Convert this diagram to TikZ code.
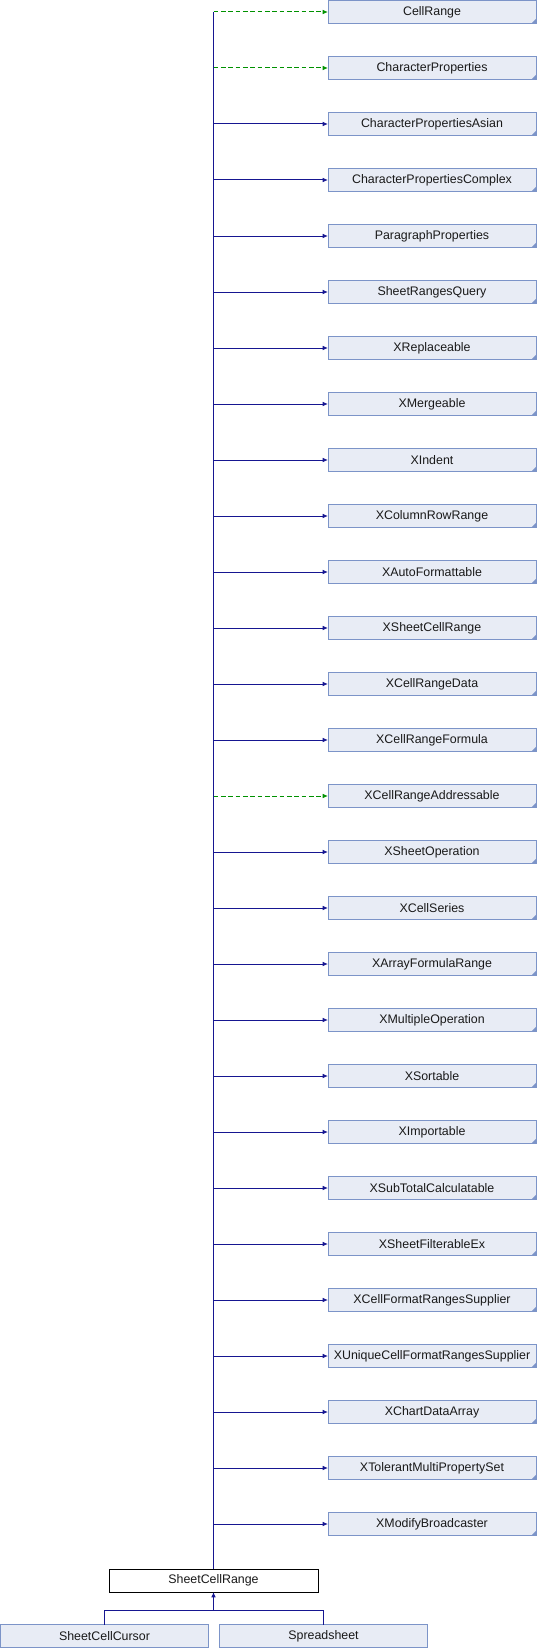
\documentclass[tikz,border=0pt]{standalone}
\usepackage{fontspec}
\setmainfont{Liberation Sans}
\usepackage{tikz}
\usetikzlibrary{arrows.meta}
\definecolor{edgeColor}{RGB}{22,22,145}
\definecolor{dashColor}{RGB}{0,145,0}
\definecolor{boxFill}{RGB}{232,236,245}
\definecolor{boxBorder}{RGB}{124,148,200}
\definecolor{textColor}{RGB}{25,25,25}

\begin{document}
\begin{tikzpicture}[x=0.75pt,y=-0.75pt]

          \tikzstyle{ifaceNode} = [draw=boxBorder, fill=boxFill, line width=0.75pt,
            minimum width=156pt, minimum height=17.25pt, inner sep=0pt, outer sep=0pt,
            text=textColor, font=\fontsize{9.3}{10}\selectfont,
            path picture={\fill[boxBorder] (path picture bounding box.south east)
              -- ++(-3.5pt,0pt) -- ++(3.5pt,3.5pt) -- cycle;}];
          \tikzstyle{plainNode} = [ifaceNode, path picture={}];
          \tikzstyle{focusNode} = [draw=black, fill=white, line width=0.75pt,
            minimum width=156.75pt, minimum height=17.25pt, inner sep=0pt, outer sep=0pt,
            text=textColor, font=\fontsize{9.3}{10}\selectfont];

          \tikzstyle{normalEdge} = [edgeColor, line width=0.75pt, -{Latex[length=4pt,width=3.5pt]}];
          \tikzstyle{usesEdge} = [dashColor, line width=0.75pt, dash pattern=on 3.5pt off 2pt, -{Latex[length=4pt,width=3.5pt]}];
          \tikzstyle{lineEdge} = [edgeColor, line width=0.75pt];

          \useasboundingbox (0,0) rectangle (537,1648);

          \node[ifaceNode] (cellRange) at (432,12) {CellRange};
          \node[ifaceNode] (charProps) at (432,68) {CharacterProperties};
          \node[ifaceNode] (charPropsAsian) at (432,124) {CharacterPropertiesAsian};
          \node[ifaceNode] (charPropsComplex) at (432,180) {CharacterPropertiesComplex};
          \node[ifaceNode] (paraProps) at (432,236) {ParagraphProperties};
          \node[ifaceNode] (rangesQuery) at (432,292) {SheetRangesQuery};
          \node[ifaceNode] (replaceable) at (432,348) {XReplaceable};
          \node[ifaceNode] (mergeable) at (432,404) {XMergeable};
          \node[ifaceNode] (indent) at (432,460) {XIndent};
          \node[ifaceNode] (colRowRange) at (432,516) {XColumnRowRange};
          \node[ifaceNode] (autoFormat) at (432,572) {XAutoFormattable};
          \node[ifaceNode] (sheetCellRangeX) at (432,628) {XSheetCellRange};
          \node[ifaceNode] (rangeData) at (432,684) {XCellRangeData};
          \node[ifaceNode] (rangeFormula) at (432,740) {XCellRangeFormula};
          \node[ifaceNode] (rangeAddr) at (432,796) {XCellRangeAddressable};
          \node[ifaceNode] (sheetOp) at (432,852) {XSheetOperation};
          \node[ifaceNode] (cellSeries) at (432,908) {XCellSeries};
          \node[ifaceNode] (arrayFormula) at (432,964) {XArrayFormulaRange};
          \node[ifaceNode] (multiOp) at (432,1020) {XMultipleOperation};
          \node[ifaceNode] (sortable) at (432,1076) {XSortable};
          \node[ifaceNode] (importable) at (432,1132) {XImportable};
          \node[ifaceNode] (subTotal) at (432,1188) {XSubTotalCalculatable};
          \node[ifaceNode] (filterEx) at (432,1244) {XSheetFilterableEx};
          \node[ifaceNode] (formatRanges) at (432,1300) {XCellFormatRangesSupplier};
          \node[ifaceNode] (uniqueFormat) at (432,1356) {XUniqueCellFormatRangesSupplier};
          \node[ifaceNode] (chartData) at (432,1412) {XChartDataArray};
          \node[ifaceNode] (multiProp) at (432,1468) {XTolerantMultiPropertySet};
          \node[ifaceNode] (modifyBc) at (432,1524) {XModifyBroadcaster};

          \node[focusNode] (sheetRange) at (213.5,1580.5) {SheetCellRange};
          \node[plainNode] (cursor) at (104.5,1636) {SheetCellCursor};
          \node[plainNode] (spreadsheet) at (323.5,1636) {Spreadsheet};
          \coordinate (branch) at (213.5,1610);

          % trunk
          \draw[lineEdge] (sheetRange.north) -- (sheetRange.north |- cellRange.west);

          \draw[usesEdge] (sheetRange.north |- cellRange.west) -- (cellRange.west);
          \draw[usesEdge] (sheetRange.north |- charProps.west) -- (charProps.west);
          \draw[normalEdge] (sheetRange.north |- charPropsAsian.west) -- (charPropsAsian.west);
          \draw[normalEdge] (sheetRange.north |- charPropsComplex.west) -- (charPropsComplex.west);
          \draw[normalEdge] (sheetRange.north |- paraProps.west) -- (paraProps.west);
          \draw[normalEdge] (sheetRange.north |- rangesQuery.west) -- (rangesQuery.west);
          \draw[normalEdge] (sheetRange.north |- replaceable.west) -- (replaceable.west);
          \draw[normalEdge] (sheetRange.north |- mergeable.west) -- (mergeable.west);
          \draw[normalEdge] (sheetRange.north |- indent.west) -- (indent.west);
          \draw[normalEdge] (sheetRange.north |- colRowRange.west) -- (colRowRange.west);
          \draw[normalEdge] (sheetRange.north |- autoFormat.west) -- (autoFormat.west);
          \draw[normalEdge] (sheetRange.north |- sheetCellRangeX.west) -- (sheetCellRangeX.west);
          \draw[normalEdge] (sheetRange.north |- rangeData.west) -- (rangeData.west);
          \draw[normalEdge] (sheetRange.north |- rangeFormula.west) -- (rangeFormula.west);
          \draw[usesEdge] (sheetRange.north |- rangeAddr.west) -- (rangeAddr.west);
          \draw[normalEdge] (sheetRange.north |- sheetOp.west) -- (sheetOp.west);
          \draw[normalEdge] (sheetRange.north |- cellSeries.west) -- (cellSeries.west);
          \draw[normalEdge] (sheetRange.north |- arrayFormula.west) -- (arrayFormula.west);
          \draw[normalEdge] (sheetRange.north |- multiOp.west) -- (multiOp.west);
          \draw[normalEdge] (sheetRange.north |- sortable.west) -- (sortable.west);
          \draw[normalEdge] (sheetRange.north |- importable.west) -- (importable.west);
          \draw[normalEdge] (sheetRange.north |- subTotal.west) -- (subTotal.west);
          \draw[normalEdge] (sheetRange.north |- filterEx.west) -- (filterEx.west);
          \draw[normalEdge] (sheetRange.north |- formatRanges.west) -- (formatRanges.west);
          \draw[normalEdge] (sheetRange.north |- uniqueFormat.west) -- (uniqueFormat.west);
          \draw[normalEdge] (sheetRange.north |- chartData.west) -- (chartData.west);
          \draw[normalEdge] (sheetRange.north |- multiProp.west) -- (multiProp.west);
          \draw[normalEdge] (sheetRange.north |- modifyBc.west) -- (modifyBc.west);

          % derived services
          \draw[normalEdge] (cursor.north) |- (branch) -- (sheetRange.south);
          \draw[lineEdge] (spreadsheet.north) |- (branch);
        \end{tikzpicture}
\end{document}
